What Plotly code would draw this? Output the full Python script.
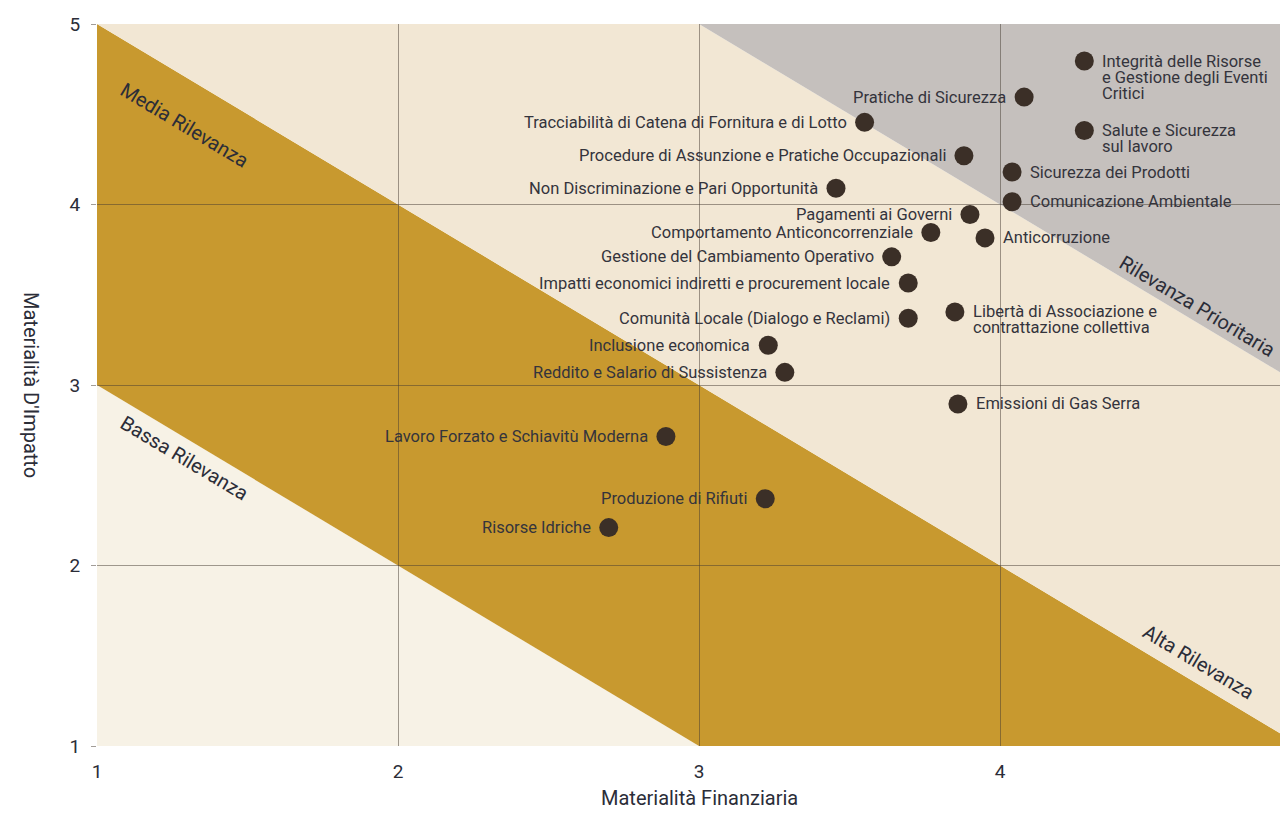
import plotly.graph_objects as go

# ---- data ----
topics = [
    "Integrità delle Risorse<br>e Gestione degli Eventi<br>Critici",
    "Salute e Sicurezza<br>sul lavoro",
    "Pratiche di Sicurezza",
    "Tracciabilità di Catena di Fornitura e di Lotto",
    "Procedure di Assunzione e Pratiche Occupazionali",
    "Sicurezza dei Prodotti",
    "Non Discriminazione e Pari Opportunità",
    "Comunicazione Ambientale",
    "Pagamenti ai Governi",
    "Comportamento Anticoncorrenziale",
    "Anticorruzione",
    "Gestione del Cambiamento Operativo",
    "Impatti economici indiretti e procurement locale",
    "Libertà di Associazione e<br>contrattazione collettiva",
    "Comunità Locale (Dialogo e Reclami)",
    "Inclusione economica",
    "Reddito e Salario di Sussistenza",
    "Emissioni di Gas Serra",
    "Lavoro Forzato e Schiavitù Moderna",
    "Produzione di Rifiuti",
    "Risorse Idriche",
]
fin_materiality = [4.28, 4.28, 4.08, 3.55, 3.88, 4.04, 3.455, 4.04, 3.90, 3.77, 3.95,
                   3.64, 3.695, 3.85, 3.695, 3.23, 3.285, 3.86, 2.89, 3.22, 2.70]
impact_materiality = [4.795, 4.41, 4.595, 4.455, 4.27, 4.18, 4.09, 4.015, 3.945, 3.845, 3.815,
                      3.71, 3.565, 3.405, 3.37, 3.22, 3.07, 2.895, 2.715, 2.37, 2.21]
label_side = ["right", "right", "left", "left", "left", "right", "left", "right", "left", "left", "right",
              "left", "left", "right", "left", "left", "left", "right", "left", "left", "left"]

band_names = ["Bassa Rilevanza", "Media Rilevanza", "Alta Rilevanza", "Rilevanza Prioritaria"]
band_limits = [0, 4, 6, 8, 12]   # bands on x + y
band_colors = ["#f7f2e6", "#c8992f", "#f2e7d4", "#c5c0bd"]
band_label_x = [1.29, 1.29, 4.66, 4.655]
band_label_y = [2.595, 4.44, 1.467, 3.44]

x_ticks = [1, 2, 3, 4]
y_ticks = [1, 2, 3, 4, 5]
x_range = [1, 4.93]
y_range = [1, 5.0]

FONT = "Roboto"
DARK = "#2b2d38"
LABEL = "#34343c"
GRID = "rgba(70,60,50,0.5)"

fig = go.Figure()

shapes = []
x0, x1 = 0, 6
for lo, hi, col in zip(band_limits[:-1], band_limits[1:], band_colors):
    path = f"M {x0},{lo - x0} L {x1},{lo - x1} L {x1},{hi - x1} L {x0},{hi - x0} Z"
    shapes.append(dict(type="path", path=path, xref="x", yref="y",
                       fillcolor=col, line=dict(width=0), layer="below"))

fig.add_trace(go.Scatter(
    x=fin_materiality, y=impact_materiality, mode="markers",
    marker=dict(size=19, color="#3b2f27", line=dict(width=0)),
    hovertext=[t.replace("<br>", " ") for t in topics], hoverinfo="text", showlegend=False,
))

annotations = []
for t, xv, yv, side in zip(topics, fin_materiality, impact_materiality, label_side):
    for i, line in enumerate(t.split("<br>")):
        annotations.append(dict(
            x=xv, y=yv, xref="x", yref="y", text=line, showarrow=False,
            xanchor="left" if side == "right" else "right", yanchor="middle",
            xshift=16 if side == "right" else -16,
            yshift=-16 * i,
            font=dict(family=FONT, size=16.5, color=LABEL),
        ))

for name, bx, by in zip(band_names, band_label_x, band_label_y):
    annotations.append(dict(
        x=bx, y=by, xref="x", yref="y", text=name, showarrow=False,
        textangle=30.9, xanchor="center", yanchor="middle",
        font=dict(family=FONT, size=20, color=DARK),
    ))

# axis titles
annotations.append(dict(
    x=0, y=3.0, xref="paper", yref="y", text="Materialità D'Impatto", showarrow=False,
    textangle=90, xanchor="center", yanchor="middle", xshift=-66,
    font=dict(family=FONT, size=20, color=DARK),
))
annotations.append(dict(
    x=3.0, y=0, xref="x", yref="paper", text="Materialità Finanziaria", showarrow=False,
    xanchor="center", yanchor="middle", yshift=-52,
    font=dict(family=FONT, size=20, color=DARK),
))

fig.update_layout(
    width=1272, height=801,
    margin=dict(l=89, r=0, t=16, b=63),
    paper_bgcolor="white", plot_bgcolor="rgba(0,0,0,0)",
    shapes=shapes, annotations=annotations,
    font=dict(family=FONT, color=DARK),
    xaxis=dict(
        range=x_range, tickvals=x_ticks, ticktext=[str(v) for v in x_ticks],
        showgrid=True, gridcolor=GRID, gridwidth=1,
        zeroline=False, showline=False, ticks="",
        tickfont=dict(family=FONT, size=19, color=DARK), ticklabelstandoff=12,
        fixedrange=True,
    ),
    yaxis=dict(
        range=y_range, tickvals=y_ticks, ticktext=[str(v) for v in y_ticks],
        showgrid=True, gridcolor=GRID, gridwidth=1,
        zeroline=False, showline=False, ticks="outside", ticklen=5,
        tickcolor=GRID,
        tickfont=dict(family=FONT, size=19, color=DARK), ticklabelstandoff=7,
        fixedrange=True,
    ),
)

fig.write_html("out.html")
